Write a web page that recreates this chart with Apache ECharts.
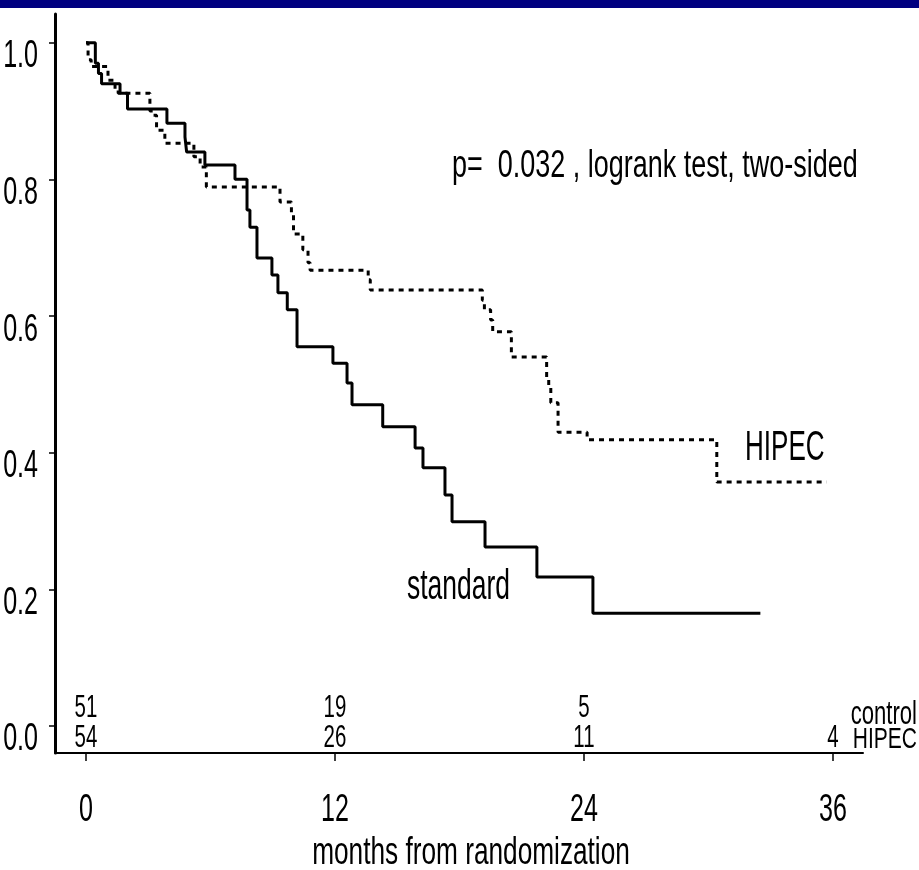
<!DOCTYPE html>
<html>
<head>
<meta charset="utf-8">
<script src="https://cdn.jsdelivr.net/npm/echarts@6/dist/echarts.min.js"></script>
<style>
  html, body { margin: 0; padding: 0; background: #fff; }
  #main { width: 919px; height: 870px; }
</style>
</head>
<body>
<div id="main"></div>
<script>
// Kaplan-Meier: standard (control) arm
const stdMonths = [0, 0.45, 0.6, 0.75, 1.64, 2.0, 3.9, 4.77, 4.85, 5.73, 7.18, 7.76, 7.9, 8.24, 8.96, 9.25, 9.7, 10.17, 11.9, 12.58, 12.82, 14.3, 15.86, 16.24, 17.3, 17.64, 19.23, 21.73, 24.43, 32.5]
const stdSurv = [1.0, 0.97, 0.955, 0.94, 0.926, 0.903, 0.882, 0.862, 0.84, 0.821, 0.80, 0.755, 0.73, 0.685, 0.66, 0.634, 0.609, 0.555, 0.531, 0.502, 0.47, 0.438, 0.407, 0.378, 0.338, 0.299, 0.262, 0.218, 0.165, 0.165]
// HIPEC arm
const hipMonths = [0, 0.1, 0.25, 1.06, 1.4, 1.55, 3.08, 3.25, 3.4, 3.8, 5.2, 5.5, 5.8, 9.35, 9.9, 10.0, 10.45, 10.7, 10.8, 13.6, 13.7, 19.1, 19.2, 19.5, 19.6, 20.5, 22.2, 22.3, 22.4, 22.75, 24.15, 30.4, 35.7]
const hipSurv = [1.0, 0.975, 0.965, 0.945, 0.93, 0.926, 0.90, 0.894, 0.872, 0.853, 0.833, 0.818, 0.789, 0.767, 0.75, 0.72, 0.697, 0.678, 0.667, 0.653, 0.638, 0.623, 0.609, 0.594, 0.577, 0.54, 0.51, 0.497, 0.473, 0.43, 0.419, 0.357, 0.357]
// numbers at risk
const riskMonths = [0, 12, 24, 36]
const riskControl = [51, 19, 5, null]
const riskHipec = [54, 26, 11, 4]
// tick labels
const xTicks = [0, 12, 24, 36]
const yTicks = [0, 0.2, 0.4, 0.6, 0.8, 1.0]

const FONT = '"Liberation Sans", Arial, sans-serif'
const X_MIN = -1.494
const X_MAX = 37.446
const Y_MIN = -0.0395
const Y_MAX = 1.042

const toPairs = (xs, ys) => xs.map((x, i) => [x, ys[i]])

const chart = echarts.init(document.getElementById('main'))

// condensed text placed through the axes (the original uses a narrow face)
function textSeries(points, texts, opt) {
  return {
    type: 'custom',
    coordinateSystem: 'cartesian2d',
    clip: false,
    silent: true,
    z: 5,
    data: points,
    renderItem: function(params, api) {
      const p = api.coord([api.value(0), api.value(1)])
      return {
        type: 'text',
        x: p[0] + (opt.dx || 0),
        y: p[1] + (opt.dy || 0),
        scaleX: opt.scaleX,
        style: {
          text: String(texts[params.dataIndex]),
          font: opt.size + 'px ' + FONT,
          fill: '#000',
          textAlign: opt.align,
          textVerticalAlign: 'middle'
        }
      }
    }
  }
}

const ctrlIdx = riskControl.map((v, i) => i).filter(i => riskControl[i] != null)

const option = {
  backgroundColor: '#fff',
  animation: false,
  textStyle: { fontFamily: FONT },
  grid: { left: 55, right: 56, top: 14, bottom: 117, outerBoundsMode: 'none' },
  xAxis: {
    type: 'value',
    min: X_MIN,
    max: X_MAX,
    axisLine: { onZero: false, lineStyle: { color: '#000', width: 2 } },
    axisTick: { customValues: xTicks, length: 8, lineStyle: { color: '#000', width: 1.5 } },
    axisLabel: { show: false },
    splitLine: { show: false }
  },
  yAxis: {
    type: 'value',
    min: Y_MIN,
    max: Y_MAX,
    axisLine: { show: true, onZero: false, lineStyle: { color: '#000', width: 3 } },
    axisTick: { show: true, customValues: yTicks, length: 6, lineStyle: { color: '#000', width: 1.5 } },
    axisLabel: { show: false },
    splitLine: { show: false }
  },
  series: [
    {
      name: 'standard',
      type: 'line',
      step: 'end',
      symbol: 'none',
      lineStyle: { color: '#000', width: 3 },
      data: toPairs(stdMonths, stdSurv)
    },
    {
      name: 'HIPEC',
      type: 'line',
      step: 'end',
      symbol: 'none',
      lineStyle: { color: '#000', width: 3, type: [5, 5] },
      data: toPairs(hipMonths, hipSurv)
    },
    // y tick labels
    textSeries(yTicks.map(v => [X_MIN, v]), yTicks.map(v => v.toFixed(1)),
      { size: 38, scaleX: 0.66, align: 'right', dx: -17, dy: 14 }),
    // x tick labels
    textSeries(xTicks.map(v => [v, Y_MIN]), xTicks,
      { size: 38, scaleX: 0.66, align: 'center', dy: 58 }),
    // numbers at risk
    textSeries(ctrlIdx.map(i => [riskMonths[i], 0.026]), ctrlIdx.map(i => riskControl[i]),
      { size: 32, scaleX: 0.64, align: 'center' }),
    textSeries(riskMonths.map(m => [m, -0.0176]), riskHipec,
      { size: 32, scaleX: 0.64, align: 'center' })
  ],
  graphic: [
    { type: 'rect', left: 0, top: 0, shape: { width: 919, height: 8 }, style: { fill: '#000080' } },
    { type: 'text', x: 452, y: 167, scaleX: 0.71, style: { text: 'p=  0.032 , logrank test, two-sided', font: '38px ' + FONT, fill: '#000', textVerticalAlign: 'middle' } },
    { type: 'text', x: 745, y: 448, scaleX: 0.62, style: { text: 'HIPEC', font: '42px ' + FONT, fill: '#000', textVerticalAlign: 'middle' } },
    { type: 'text', x: 407, y: 587, scaleX: 0.615, style: { text: 'standard', font: '43px ' + FONT, fill: '#000', textVerticalAlign: 'middle' } },
    { type: 'text', x: 917, y: 715, scaleX: 0.67, style: { text: 'control', font: '33px ' + FONT, fill: '#000', textAlign: 'right', textVerticalAlign: 'middle' } },
    { type: 'text', x: 917, y: 740, scaleX: 0.7, style: { text: 'HIPEC', font: '30px ' + FONT, fill: '#000', textAlign: 'right', textVerticalAlign: 'middle' } },
    { type: 'text', x: 471, y: 854, scaleX: 0.69, style: { text: 'months from randomization', font: '38px ' + FONT, fill: '#000', textAlign: 'center', textVerticalAlign: 'middle' } }
  ]
}

chart.setOption(option)
window.addEventListener('resize', function() {
  chart.resize()
})
</script>
</body>
</html>
